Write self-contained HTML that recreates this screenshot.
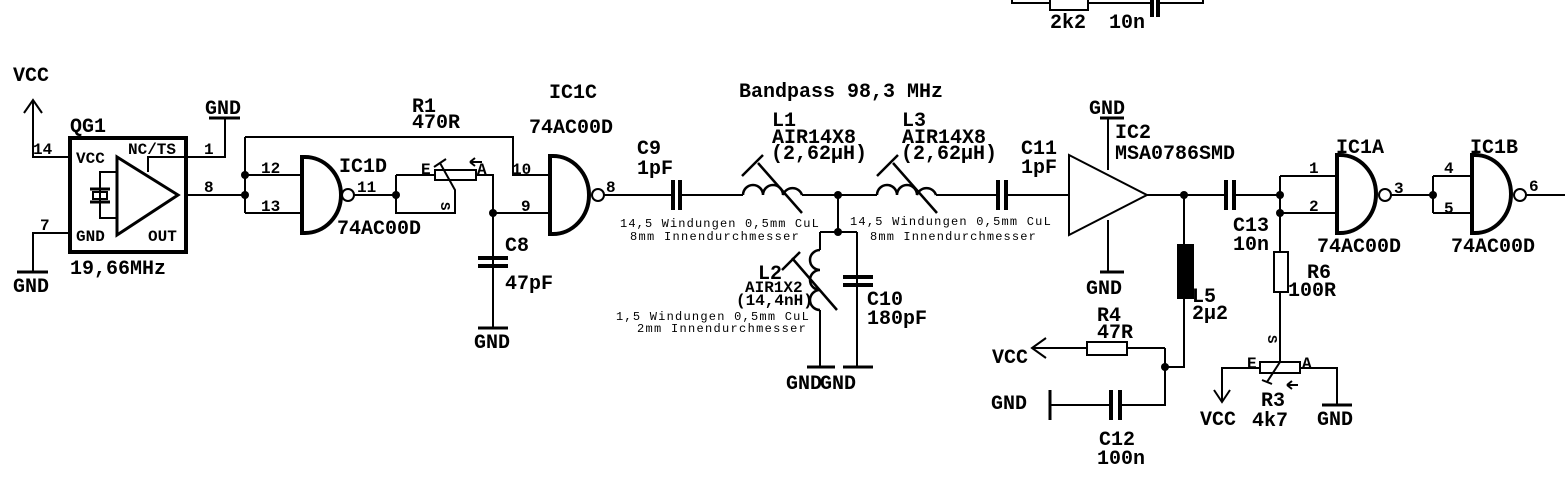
<!DOCTYPE html>
<html><head><meta charset="utf-8"><style>
html,body{margin:0;padding:0;background:#fff;}
svg{display:block;}
text{font-family:"Liberation Mono",monospace;font-weight:bold;font-size:20px;fill:#000;letter-spacing:0px;}
text.p{font-size:16px;}
text.s{font-size:12px;letter-spacing:1.2px;font-weight:normal;}
</style></head><body>
<svg width="1565" height="498" viewBox="0 0 1565 498" xmlns="http://www.w3.org/2000/svg">
<g fill="none" stroke="#000" stroke-width="2">
<path d="M1012,0 V3 H1050 M1088,3 H1152 M1158,3 H1203 V0"/>
<rect x="1050" y="-2" width="38" height="12"/>
<path d="M1152,0 V17 M1158,0 V17" stroke-width="4"/>

<path d="M33,100 V157 H70 M24,113 L33,100 L42,113"/>
<path d="M33,272 V233 H70"/>
<path d="M17,272 H48" stroke-width="3"/>
<rect x="70" y="138" width="116" height="114" stroke-width="4"/>
<path d="M117,157 V235 L178,195 Z" stroke-width="3"/>
<path d="M148,172 V157 H225 V118 M117,172 H100 V218 H117"/>
<path d="M209,118 H240" stroke-width="3"/>
<path d="M90,189 H110 M90,202 H110" stroke-width="3"/>
<rect x="93" y="192" width="14" height="7"/>
<path d="M186,195 H245 M245,137 V213 M245,175 H302 M245,213 H302 M245,137 H513 V175 H550"/>
<path d="M302,157 H305 A36,38 0 0 1 305,233 H302 Z" stroke-width="4"/>
<circle cx="348" cy="195" r="6"/>
<path d="M354,195 H396 M396,175 V213 H455 V190 L440,163 M434,167 L446,159 M396,175 H435 M476,175 H493 V328 M493,213 H550"/>
<rect x="435" y="170" width="41" height="10"/>
<path d="M470,162 H482 M470,162 L475,158 M470,162 L475,166"/>
<path d="M478,328 H508" stroke-width="3"/>
<path d="M478,258 H508 M478,266 H508" stroke-width="4"/>
<path d="M550,156 H553 A36,39 0 0 1 553,234 H550 Z" stroke-width="4"/>
<circle cx="598" cy="195" r="6"/>
<path d="M604,195 H673 M680,195 H743 M802,195 H877 M936,195 H998 M1006,195 H1069"/>
<path d="M673,180 V210 M680,180 V210 M998,180 V210 M1006,180 V210" stroke-width="4"/>
<path d="M743,195 a10,10 0 0 1 20,0 a10,10 0 0 1 20,0 a10,10 0 0 1 19,0" stroke-width="2.5"/>
<path d="M758,163 L802,213 M742,176 L763,155" stroke-width="2.5"/>
<path d="M877,195 a10,10 0 0 1 20,0 a10,10 0 0 1 20,0 a10,10 0 0 1 19,0" stroke-width="2.5"/>
<path d="M893,163 L937,213 M877,176 L898,155" stroke-width="2.5"/>
<path d="M838,195 V232 M820,232 H857 M820,232 V250 M820,310 V367 M857,232 V367"/>
<path d="M820,250 a10,10 0 0 0 0,20 a10,10 0 0 0 0,20 a10,10 0 0 0 0,20" stroke-width="2.5"/>
<path d="M792,258 L837,310 M782,270 L800,252" stroke-width="2.5"/>
<path d="M843,277 H873 M843,285 H873" stroke-width="4"/>
<path d="M807,367 H835 M843,367 H873" stroke-width="3"/>
<path d="M1069,155 V235 L1147,195 Z" stroke-width="2"/>
<path d="M1108,118 V170 M1108,220 V272"/>
<path d="M1100,118 H1124 M1100,272 H1124" stroke-width="3"/>
<path d="M1147,195 H1226 M1234,195 H1280 M1280,176 V252 M1280,292 V362 M1280,176 H1337 M1280,213 H1337"/>
<path d="M1226,180 V210 M1234,180 V210" stroke-width="4"/>
<rect x="1274" y="252" width="14" height="40"/>
<rect x="1178" y="245" width="15" height="53" fill="#000"/>
<path d="M1184,195 V367 H1165 M1165,348 V405 H1120 M1111,405 H1050 M1032,348 H1087 M1127,348 H1165 M1046,338 L1032,348 L1046,358"/>
<rect x="1087" y="342" width="40" height="13"/>
<path d="M1111,390 V420 M1120,390 V420" stroke-width="4"/>
<path d="M1050,390 V420" stroke-width="3"/>
<rect x="1260" y="362" width="40" height="11"/>
<path d="M1260,368 H1222 V402 M1214,390 L1222,402 L1230,390 M1300,368 H1337 V405 M1280,362 L1267,382 M1262,380 L1272,384 M1287,385 H1298 M1287,385 L1292,381 M1287,385 L1292,389"/>
<path d="M1322,405 H1352" stroke-width="3"/>
<path d="M1337,155 H1340 A36,39 0 0 1 1340,233 H1337 Z" stroke-width="4"/>
<circle cx="1385" cy="195" r="6"/>
<path d="M1391,195 H1433 M1433,176 V213 M1433,176 H1472 M1433,213 H1472"/>
<path d="M1472,155 H1475 A36,39 0 0 1 1475,233 H1472 Z" stroke-width="4"/>
<circle cx="1520" cy="195" r="6"/>
<path d="M1526,195 H1565"/>
</g>
<g fill="#000">
<circle cx="245" cy="175" r="4"/><circle cx="245" cy="195" r="4"/>
<circle cx="396" cy="195" r="4"/><circle cx="493" cy="213" r="4"/>
<circle cx="838" cy="195" r="4"/><circle cx="838" cy="232" r="4"/>
<circle cx="1184" cy="195" r="4"/><circle cx="1280" cy="195" r="4"/><circle cx="1280" cy="213" r="4"/>
<circle cx="1433" cy="195" r="4"/><circle cx="1165" cy="367" r="4"/>
</g>
<text x="1050" y="28">2k2</text><text x="1109" y="28">10n</text>
<text x="13" y="81">VCC</text>
<text class="p" x="33" y="154">14</text>
<text class="p" x="40" y="230">7</text>
<text x="13" y="292">GND</text>
<text x="70" y="132">QG1</text>
<text class="p" x="76" y="163">VCC</text>
<text class="p" x="128" y="154">NC/TS</text>
<text class="p" x="76" y="241">GND</text>
<text class="p" x="148" y="241">OUT</text>
<text x="70" y="274">19,66MHz</text>
<text x="205" y="114">GND</text>
<text class="p" x="204" y="154">1</text>
<text class="p" x="204" y="192">8</text>
<text x="412" y="112">R1</text><text x="412" y="128">470R</text>
<text class="p" x="261" y="173">12</text>
<text class="p" x="261" y="211">13</text>
<text x="339" y="172">IC1D</text>
<text x="337" y="234">74AC00D</text>
<text class="p" x="357" y="192">11</text>
<text class="p" x="421" y="174">E</text>
<text class="p" x="477" y="174">A</text>
<text class="p" x="0" y="0" style="font-size:14px" transform="translate(441,202) rotate(90)">S</text>
<text x="505" y="251">C8</text><text x="505" y="289">47pF</text>
<text x="474" y="348">GND</text>
<text class="p" x="512" y="174">10</text>
<text class="p" x="521" y="211">9</text>
<text x="549" y="98">IC1C</text>
<text x="529" y="133">74AC00D</text>
<text class="p" x="606" y="192">8</text>
<text x="637" y="154">C9</text><text x="637" y="174">1pF</text>
<text x="739" y="97">Bandpass 98,3 MHz</text>
<text x="772" y="126">L1</text><text x="772" y="143">AIR14X8</text><text x="771" y="159">(2,62µH)</text>
<text x="902" y="126">L3</text><text x="902" y="143">AIR14X8</text><text x="901" y="159">(2,62µH)</text>
<text class="s" x="620" y="227" textLength="200">14,5 Windungen 0,5mm CuL</text>
<text class="s" x="630" y="240" textLength="170">8mm Innendurchmesser</text>
<text class="s" x="850" y="225" textLength="202">14,5 Windungen 0,5mm CuL</text>
<text class="s" x="870" y="240" textLength="167">8mm Innendurchmesser</text>
<text x="758" y="279">L2</text>
<text class="p" x="745" y="292">AIR1X2</text>
<text class="p" x="736" y="305">(14,4nH)</text>
<text class="s" x="616" y="320" textLength="194">1,5 Windungen 0,5mm CuL</text>
<text class="s" x="637" y="332" textLength="170">2mm Innendurchmesser</text>
<text x="867" y="305">C10</text><text x="867" y="324">180pF</text>
<text x="786" y="389">GND</text><text x="820" y="389">GND</text>
<text x="1021" y="154">C11</text><text x="1021" y="173">1pF</text>
<text x="1089" y="114">GND</text>
<text x="1115" y="138">IC2</text><text x="1115" y="159">MSA0786SMD</text>
<text x="1086" y="294">GND</text>
<text x="1233" y="231">C13</text><text x="1233" y="250">10n</text>
<text x="1307" y="278">R6</text><text x="1288" y="296">100R</text>
<text x="1192" y="302">L5</text><text x="1192" y="319">2µ2</text>
<text x="1097" y="321">R4</text><text x="1097" y="338">47R</text>
<text x="992" y="363">VCC</text>
<text x="991" y="409">GND</text>
<text x="1099" y="445">C12</text><text x="1097" y="464">100n</text>
<text class="p" x="1247" y="368">E</text>
<text class="p" x="1302" y="368">A</text>
<text class="p" x="0" y="0" style="font-size:14px" transform="translate(1268,335) rotate(90)">S</text>
<text x="1261" y="406">R3</text><text x="1252" y="426">4k7</text>
<text x="1200" y="425">VCC</text><text x="1317" y="425">GND</text>
<text class="p" x="1309" y="173">1</text>
<text class="p" x="1309" y="211">2</text>
<text class="p" x="1394" y="193">3</text>
<text class="p" x="1444" y="173">4</text>
<text class="p" x="1444" y="213">5</text>
<text class="p" x="1529" y="191">6</text>
<text x="1336" y="153">IC1A</text><text x="1470" y="153">IC1B</text>
<text x="1317" y="252">74AC00D</text><text x="1451" y="252">74AC00D</text>
</svg>
</body></html>
